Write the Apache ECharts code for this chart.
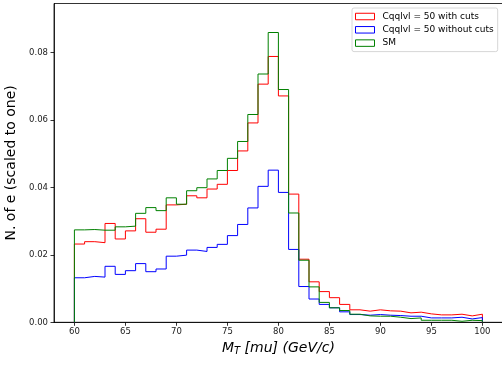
<!DOCTYPE html>
<html>
<head>
<meta charset="utf-8">
<script src="https://cdn.jsdelivr.net/npm/echarts@6/dist/echarts.min.js"></script>
<style>
html,body{margin:0;padding:0;background:#fff;}
#chart{width:502px;height:365px;}
</style>
</head>
<body>
<div id="chart"></div>
<script>
// Histogram bins: 60..100 GeV/c, width 1
const binStart = 60;
const binWidth = 1;

const seriesNames = ["Cqqlvl = 50 with cuts", "Cqqlvl = 50 without cuts", "SM"];
const seriesColors = ["#ff0000", "#0000ff", "#008000"];

const withCuts = [
  0.0232, 0.0239, 0.0236, 0.0293, 0.0247, 0.0271, 0.0307, 0.0267, 0.0276, 0.0348,
  0.0350, 0.0375, 0.0369, 0.0395, 0.0409, 0.0450, 0.0508, 0.0591, 0.0706, 0.0788,
  0.0671, 0.0380, 0.0187, 0.0120, 0.0091, 0.0073, 0.0053, 0.0037, 0.0033, 0.0037,
  0.0034, 0.0033, 0.0028, 0.0030, 0.0025, 0.0022, 0.0022, 0.0024, 0.0019, 0.0024
];
const withoutCuts = [
  0.0132, 0.0136, 0.0134, 0.0166, 0.0142, 0.0153, 0.0174, 0.0150, 0.0158, 0.0196,
  0.0199, 0.0214, 0.0210, 0.0222, 0.0231, 0.0257, 0.0290, 0.0339, 0.0403, 0.0451,
  0.0385, 0.0216, 0.0106, 0.0069, 0.0053, 0.0043, 0.0031, 0.0023, 0.0021, 0.0023,
  0.0021, 0.0020, 0.0018, 0.0018, 0.0013, 0.0013, 0.0013, 0.0015, 0.0010, 0.0014
];
const sm = [
  0.0274, 0.0275, 0.0273, 0.0273, 0.0283, 0.0285, 0.0323, 0.0340, 0.0331, 0.0369,
  0.0350, 0.0390, 0.0399, 0.0425, 0.0450, 0.0486, 0.0536, 0.0616, 0.0736, 0.0859,
  0.0690, 0.0324, 0.0184, 0.0105, 0.0059, 0.0043, 0.0035, 0.0024, 0.0019, 0.0018,
  0.0018, 0.0015, 0.0011, 0.0013, 0.0006, 0.0006, 0.0006, 0.0003, 0.0006, 0.0005
];

const xTicks = [60, 65, 70, 75, 80, 85, 90, 95, 100];
const yTicks = [0, 0.02, 0.04, 0.06, 0.08];

function stepData(vals) {
  const pts = [[binStart, 0]];
  for (let i = 0; i < vals.length; i++) pts.push([binStart + i * binWidth, vals[i]]);
  const end = binStart + vals.length * binWidth;
  pts.push([end, vals[vals.length - 1]]);
  pts.push([end, 0]);
  return pts;
}

const allVals = [withCuts, withoutCuts, sm];
const chart = echarts.init(document.getElementById('chart'), null, {renderer: 'canvas'});
const font = "DejaVu Sans";

chart.setOption({
  animation: false,
  backgroundColor: '#ffffff',
  grid: {
    left: 54, top: 3.5, width: 448.8, height: 318.8,
    show: true, borderColor: '#000', borderWidth: 0.8,
    containLabel: false, outerBoundsMode: 'none'
  },
  legend: {
    orient: 'vertical',
    left: 352, top: 8,
    padding: [3, 4, 3, 3],
    backgroundColor: 'rgba(255,255,255,0.8)',
    borderColor: '#cccccc', borderWidth: 0.8, borderRadius: 2,
    itemWidth: 19, itemHeight: 6.5, itemGap: 2.3,
    icon: 'rect',
    textStyle: {fontFamily: font, fontSize: 9, color: '#000', lineHeight: 11, padding: [0, 0, 0, 3]},
    data: seriesNames.map((n, i) => ({
      name: n,
      itemStyle: {color: 'rgba(0,0,0,0)', borderColor: seriesColors[i], borderWidth: 1}
    }))
  },
  xAxis: {
    type: 'value', min: 58, max: 102,
    splitLine: {show: false},
    axisLine: {show: true, onZero: false, lineStyle: {color: '#000', width: 0.8}},
    axisTick: {show: true, length: 3.5, lineStyle: {color: '#000', width: 0.8}, customValues: xTicks},
    axisLabel: {customValues: xTicks, fontFamily: font, fontSize: 8.5, color: '#222', margin: 5},
    name: '{i|M}{s|T}{i| [mu] (GeV/c)}',
    nameLocation: 'middle', nameGap: 18,
    nameTextStyle: {
      fontFamily: font, fontSize: 14, color: '#000',
      rich: {
        i: {fontFamily: font, fontStyle: 'italic', fontSize: 14, color: '#000'},
        s: {fontFamily: font, fontStyle: 'italic', fontSize: 10, color: '#000', padding: [6, 0, 0, 0]}
      }
    }
  },
  yAxis: {
    type: 'value', min: 0, max: 0.0945,
    splitLine: {show: false},
    axisLine: {show: true, lineStyle: {color: '#000', width: 0.8}},
    axisTick: {show: true, length: 3.5, lineStyle: {color: '#000', width: 0.8}, customValues: yTicks},
    axisLabel: {customValues: yTicks, fontFamily: font, fontSize: 8.5, color: '#222', margin: 6,
      formatter: v => v.toFixed(2)},
    name: 'N. of e (scaled to one)',
    nameLocation: 'middle', nameGap: 29,
    nameTextStyle: {fontFamily: font, fontSize: 14, color: '#000'}
  },
  series: seriesNames.map((n, i) => ({
    name: n, type: 'line', step: 'end', symbol: 'none',
    data: stepData(allVals[i]),
    lineStyle: {color: seriesColors[i], width: 1},
    itemStyle: {color: seriesColors[i]},
    emphasis: {disabled: true}
  }))
});
</script>
</body>
</html>
